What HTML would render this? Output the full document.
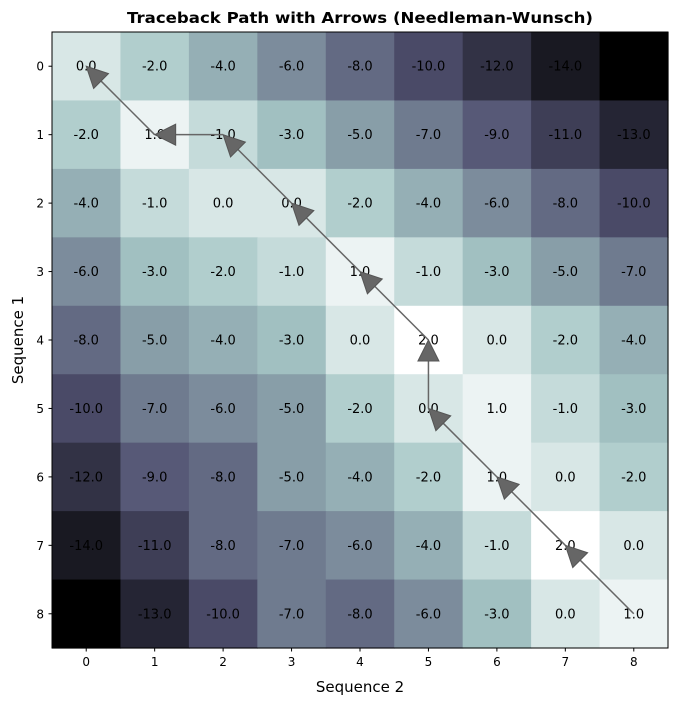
<!DOCTYPE html>
<html><head><style>body{margin:0;background:#fff}svg text{font-family:"DejaVu Sans","Liberation Sans",sans-serif}</style></head>
<body>
<svg width="678" height="705" xmlns="http://www.w3.org/2000/svg">
<rect width="678" height="705" fill="#fff"/>
<g id="cells"></g>
<g id="labels" font-size="13" fill="#000" text-anchor="middle"></g>
<g id="arrows"></g>
<rect x="52" y="32" width="616" height="616" fill="none" stroke="#000" stroke-width="1"/>
<g id="ticks" font-size="12" fill="#000"></g>
<text x="360" y="23" font-size="15" font-weight="bold" text-anchor="middle" textLength="466" lengthAdjust="spacingAndGlyphs">Traceback Path with Arrows (Needleman-Wunsch)</text>
<text x="360" y="692" font-size="15" text-anchor="middle">Sequence 2</text>
<text x="23" y="340" font-size="15" text-anchor="middle" transform="rotate(-90 23 340)">Sequence 1</text>
</svg>
<script>
var C={"-16":[0,0,0],"-14":[25,25,34],"-13":[37,37,52],"-12":[50,50,69],"-11":[62,62,86],"-10":[74,74,103],"-9":[87,89,119],"-8":[99,106,131],"-7":[111,123,143],"-6":[124,140,156],"-5":[136,158,168],"-4":[149,175,181],"-3":[161,192,193],"-2":[177,206,205],"-1":[197,219,218],"0":[216,231,230],"1":[236,243,243],"2":[255,255,255]};
var D=[[0,-2,-4,-6,-8,-10,-12,-14,null],[-2,1,-1,-3,-5,-7,-9,-11,-13],[-4,-1,0,0,-2,-4,-6,-8,-10],[-6,-3,-2,-1,1,-1,-3,-5,-7],[-8,-5,-4,-3,0,2,0,-2,-4],[-10,-7,-6,-5,-2,0,1,-1,-3],[-12,-9,-8,-5,-4,-2,1,0,-2],[-14,-11,-8,-7,-6,-4,-1,2,0],[null,-13,-10,-7,-8,-6,-3,0,1]];
var s=616/9,h="",l="",t="",a="";
function cx(c){return 52+s*(c+.5)}function cy(r){return 32+s*(r+.5)}
for(var r=0;r<9;r++)for(var c=0;c<9;c++){var v=D[r][c];var k=v===null?"-16":String(v);var q=C[k];
h+='<rect x="'+(52+s*c)+'" y="'+(32+s*r)+'" width="'+(s+.6)+'" height="'+(s+.6)+'" fill="rgb('+q+')"/>';
if(v!==null)l+='<text x="'+cx(c)+'" y="'+(cy(r)+4.5)+'">'+v.toFixed(1)+'</text>';}
for(var i=0;i<9;i++){t+='<line x1="'+cx(i)+'" y1="648" x2="'+cx(i)+'" y2="651.5" stroke="#000"/><text x="'+cx(i)+'" y="666" text-anchor="middle">'+i+'</text>';
t+='<line x1="48.5" y1="'+cy(i)+'" x2="52" y2="'+cy(i)+'" stroke="#000"/><text x="44" y="'+(cy(i)+4.5)+'" text-anchor="end">'+i+'</text>';}
var P=[[8,8],[7,7],[6,6],[5,5],[4,5],[3,4],[2,3],[1,2],[1,1],[0,0]];
for(var i=0;i<P.length-1;i++){var x1=cx(P[i][1]),y1=cy(P[i][0]),x2=cx(P[i+1][1]),y2=cy(P[i+1][0]);
var dx=x2-x1,dy=y2-y1,L=Math.hypot(dx,dy),ux=dx/L,uy=dy/L,px=-uy,py=ux,hl=21,hw=10.5;
var bx=x2-ux*hl,by=y2-uy*hl;
a+='<line x1="'+x1+'" y1="'+y1+'" x2="'+bx+'" y2="'+by+'" stroke="#666" stroke-width="1.5"/>';
a+='<polygon points="'+x2+','+y2+' '+(bx+px*hw)+','+(by+py*hw)+' '+(bx-px*hw)+','+(by-py*hw)+'" fill="#666" stroke="#555" stroke-width="1"/>';}
document.getElementById("cells").innerHTML=h;document.getElementById("labels").innerHTML=l;
document.getElementById("ticks").innerHTML=t;document.getElementById("arrows").innerHTML=a;
</script>
</body></html>
